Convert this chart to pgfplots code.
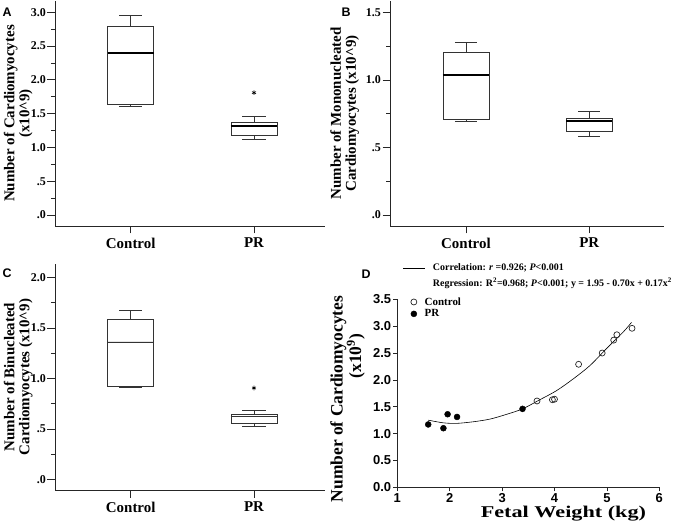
\documentclass[border=0pt]{standalone}
\usepackage{fontspec}
\setmainfont{Liberation Serif}
\newfontfamily\arialfont{Liberation Sans}
\usepackage{pgfplots}
\pgfplotsset{compat=1.18}
\usepgfplotslibrary{statistics}
\begin{document}
\begin{tikzpicture}
\pgfplotsset{
  boxax/.style={
    scale only axis,
    axis x line=bottom, axis y line=left,
    axis line style={-, line width=0.8bp, black!85},
    tick align=outside, major tick length=7.5bp, minor tick length=4bp,
    tick style={black!85, line width=0.7bp},
    minor tick style={black!85, line width=0.6bp},
    xtick={1,2}, xticklabels={Control,PR},
    xticklabel style={font=\bfseries\fontsize{15}{15}\selectfont, yshift=-1bp},
    yticklabel style={font=\bfseries\fontsize{12}{12}\selectfont, inner sep=1.5bp},
    ylabel style={font=\bfseries\fontsize{15}{15}\selectfont, align=center, anchor=center},
    boxplot/draw direction=y,
    clip=false,
  },
  bx/.style={draw=black!80, line width=0.7bp, fill=white, solid},
}
% ---------------- Panel A ----------------
\begin{axis}[boxax, at={(55bp,298bp)}, anchor=south west, width=270bp, height=225bp,
  xmin=0.386, xmax=2.576, ymin=-0.163, ymax=3.167,
  ytick={0,0.5,1,1.5,2,2.5,3}, yticklabels={.0,.5,1.0,1.5,2.0,2.5,3.0},
  minor ytick={0.25,0.75,1.25,1.75,2.25,2.75},
  ylabel={Number of Cardiomyocytes\\(x10\textasciicircum 9)},
  ylabel style={at={(axis description cs:-0.136,0.5)}},
  boxplot/every median/.style={line width=1.4bp, black}]
\addplot[bx, boxplot prepared={draw position=1, lower whisker=1.61, lower quartile=1.64,
  median=2.40, upper quartile=2.79, upper whisker=2.96, box extend=0.373, whisker extend=0.187}] coordinates {};
\addplot[bx, boxplot prepared={draw position=2, lower whisker=1.115, lower quartile=1.18,
  median=1.317, upper quartile=1.366, upper whisker=1.46, box extend=0.373, whisker extend=0.187}] coordinates {};
\addplot[only marks, mark=asterisk, mark size=2.3bp, black, line width=0.6bp] coordinates {(2,1.81)};
\end{axis}
% ---------------- Panel B ----------------
\begin{axis}[boxax, at={(390bp,298bp)}, anchor=south west, width=274bp, height=225bp,
  xmin=0.384, xmax=2.606, ymin=-0.081, ymax=1.584,
  ytick={0,0.5,1,1.5}, yticklabels={.0,.5,1.0,1.5},
  minor ytick={0.25,0.75,1.25},
  ylabel={Number of Mononucleated\\Cardiomyocytes (x10\textasciicircum 9)},
  ylabel style={at={(axis description cs:-0.165,0.5)}},
  boxplot/every median/.style={line width=1.4bp, black}]
\addplot[bx, boxplot prepared={draw position=1, lower whisker=0.693, lower quartile=0.708,
  median=1.037, upper quartile=1.205, upper whisker=1.279, box extend=0.373, whisker extend=0.18}] coordinates {};
\addplot[bx, boxplot prepared={draw position=2, lower whisker=0.584, lower quartile=0.616,
  median=0.696, upper quartile=0.718, upper whisker=0.768, box extend=0.373, whisker extend=0.18}] coordinates {};
\end{axis}
% ---------------- Panel C ----------------
\begin{axis}[boxax, at={(55bp,34bp)}, anchor=south west, width=270bp, height=226bp,
  xmin=0.386, xmax=2.576, ymin=-0.102, ymax=2.131,
  ytick={0,0.5,1,1.5,2}, yticklabels={.0,.5,1.0,1.5,2.0},
  minor ytick={0.25,0.75,1.25,1.75},
  ylabel={Number of Binucleated\\Cardiomyocytes (x10\textasciicircum 9)},
  ylabel style={at={(axis description cs:-0.136,0.5)}},
  boxplot/every median/.style={line width=0.8bp, black!80}]
\addplot[bx, boxplot prepared={draw position=1, lower whisker=0.913, lower quartile=0.926,
  median=1.361, upper quartile=1.581, upper whisker=1.677, box extend=0.373, whisker extend=0.187}] coordinates {};
\addplot[bx, boxplot prepared={draw position=2, lower whisker=0.531, lower quartile=0.557,
  median=0.623, upper quartile=0.642, upper whisker=0.686, box extend=0.373, whisker extend=0.187}] coordinates {};
\addplot[only marks, mark=asterisk, mark size=2.3bp, black, line width=0.6bp] coordinates {(2,0.906)};
\end{axis}
% ---------------- Panel D ----------------
\begin{axis}[at={(397.3bp,36.7bp)}, anchor=south west, scale only axis, width=262bp, height=188bp,
  xmin=1, xmax=6, ymin=0, ymax=3.5, clip=false,
  axis x line=bottom, axis y line=left,
  axis line style={-, line width=0.8bp, black!85},
  tick align=outside, major tick length=4bp,
  tick style={black!85, line width=0.7bp},
  xtick={1,2,3,4,5,6}, xticklabels={1,2,3,4,5,6},
  ytick={0,0.5,1,1.5,2,2.5,3,3.5}, yticklabels={0.0,0.5,1.0,1.5,2.0,2.5,3.0,3.5},
  ticklabel style={font=\arialfont\bfseries\fontsize{13}{13}\selectfont, inner sep=2bp},
  xlabel={\scalebox{1.35}[1]{Fetal Weight (kg)}},
  xlabel style={font=\bfseries\fontsize{16.5}{16.5}\selectfont, at={(axis description cs:0.634,-0.138)}, anchor=center},
  ylabel={Number of Cardiomyocytes},
  ylabel style={font=\bfseries\fontsize{17.5}{17.5}\selectfont, at={(axis description cs:-0.225,0.47)}, anchor=center},
  legend style={at={(0.051,1.019)}, anchor=north west, draw=none, fill=none,
    font=\bfseries\fontsize{11}{11}\selectfont, inner sep=0bp, row sep=0bp,
    nodes={inner sep=1.5bp}},
  legend cell align=left,
  legend image code/.code={\draw[mark repeat=2,mark phase=2,#1] plot coordinates {(0bp,0bp) (5bp,0bp) (10bp,0bp)}; \path (14bp,0bp);},
  ]
\addplot[only marks, mark=o, mark size=3bp, black!85, line width=0.7bp] coordinates {
  (3.666,1.607) (3.96,1.63) (4.00,1.64) (4.46,2.29) (4.91,2.50) (5.13,2.74) (5.19,2.84) (5.48,2.96)};
\addlegendentry{Control}
\addplot[only marks, mark=*, mark size=3bp, black] coordinates {
  (1.59,1.17) (1.88,1.10) (1.96,1.36) (2.14,1.31) (3.39,1.46)};
\addlegendentry{PR}
\addplot[black, line width=0.6bp, smooth, forget plot] coordinates {
  (1.59,1.25) (1.88,1.20) (2.13,1.19) (2.45,1.22) (2.77,1.27) (3.09,1.36) (3.39,1.46)
  (3.72,1.63) (4.04,1.80) (4.36,2.02) (4.68,2.27) (5.00,2.59) (5.32,2.90) (5.47,3.07)};
\node[rotate=90, font=\bfseries\fontsize{17.5}{17.5}\selectfont] at (axis description cs:-0.158,0.698) {(x10\textsuperscript{9})};
\end{axis}
\begin{axis}[at={(397.3bp,36.7bp)}, anchor=south west, scale only axis, width=262bp, height=188bp,
  xmin=1, xmax=6, ymin=0, ymax=3.5, hide axis,
  legend style={at={(0.02,1.197)}, anchor=north west, draw=none, fill=none,
    font=\bfseries\fontsize{10}{10}\selectfont, inner sep=0bp, row sep=2.5bp,
    nodes={inner sep=1.5bp}},
  legend cell align=left,
  legend image code/.code={\draw[#1] (0bp,0bp) -- (22bp,0bp); \path (28bp,0bp);},
  ]
\addlegendimage{black, line width=0.7bp}
\addlegendentry{Correlation: \textit{r} =0.926; \textit{P}<0.001}
\addlegendimage{empty legend}
\addlegendentry{Regression: R\textsuperscript{2}=0.968; \textit{P}<0.001; y = 1.95 - 0.70x + 0.17x\textsuperscript{2}}
\end{axis}
% panel letters
\node[font=\arialfont\bfseries\fontsize{12.5}{12.5}\selectfont] at (7bp,512bp) {A};
\node[font=\arialfont\bfseries\fontsize{12.5}{12.5}\selectfont] at (346bp,512bp) {B};
\node[font=\arialfont\bfseries\fontsize{12.5}{12.5}\selectfont] at (7bp,251bp) {C};
\node[font=\arialfont\bfseries\fontsize{12.5}{12.5}\selectfont] at (366bp,250bp) {D};
\pgfresetboundingbox
\useasboundingbox (0bp,0bp) rectangle (683bp,524bp);
\end{tikzpicture}
\end{document}
